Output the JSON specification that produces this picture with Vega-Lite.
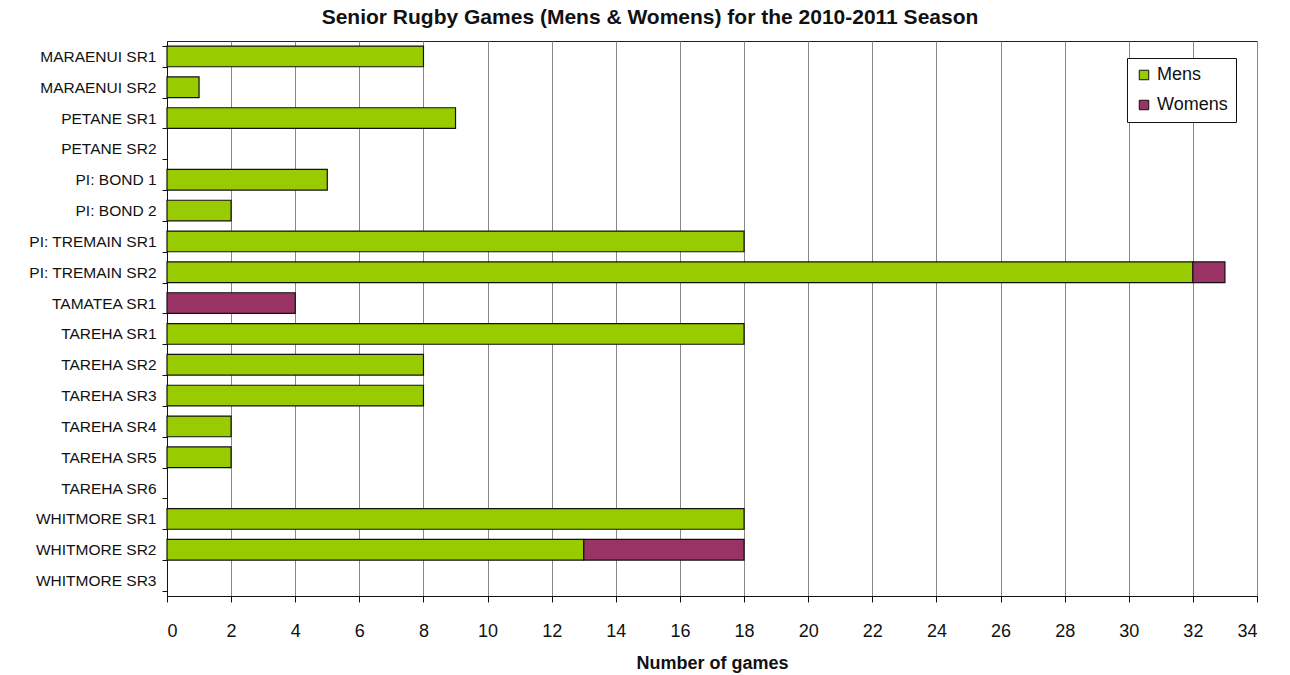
{
  "$schema": "https://vega.github.io/schema/vega-lite/v6.json",
  "width": 1090,
  "height": 555,
  "autosize": {"type": "none"},
  "padding": {"left": 167, "top": 41, "right": 33, "bottom": 79},
  "background": "white",
  "title": {
    "text": "Senior Rugby Games (Mens & Womens) for the 2010-2011 Season",
    "font": "Liberation Sans",
    "fontSize": 21,
    "fontWeight": "bold",
    "color": "#111",
    "anchor": "middle",
    "dx": -62,
    "offset": 6
  },
  "config": {
    "view": {"stroke": "#222", "strokeWidth": 1},
    "font": "Liberation Sans"
  },
  "data": {
    "values": [
      {"team": "MARAENUI SR1", "type": "Mens", "games": 8},
      {"team": "MARAENUI SR2", "type": "Mens", "games": 1},
      {"team": "PETANE SR1", "type": "Mens", "games": 9},
      {"team": "PI: BOND 1", "type": "Mens", "games": 5},
      {"team": "PI: BOND 2", "type": "Mens", "games": 2},
      {"team": "PI: TREMAIN SR1", "type": "Mens", "games": 18},
      {"team": "PI: TREMAIN SR2", "type": "Mens", "games": 32},
      {"team": "PI: TREMAIN SR2", "type": "Womens", "games": 1},
      {"team": "TAMATEA SR1", "type": "Womens", "games": 4},
      {"team": "TAREHA SR1", "type": "Mens", "games": 18},
      {"team": "TAREHA SR2", "type": "Mens", "games": 8},
      {"team": "TAREHA SR3", "type": "Mens", "games": 8},
      {"team": "TAREHA SR4", "type": "Mens", "games": 2},
      {"team": "TAREHA SR5", "type": "Mens", "games": 2},
      {"team": "WHITMORE SR1", "type": "Mens", "games": 18},
      {"team": "WHITMORE SR2", "type": "Mens", "games": 13},
      {"team": "WHITMORE SR2", "type": "Womens", "games": 5}
    ]
  },
  "mark": {"type": "bar", "stroke": "#111", "strokeWidth": 1.2},
  "encoding": {
    "y": {
      "field": "team",
      "type": "nominal",
      "scale": {
        "domain": ["MARAENUI SR1", "MARAENUI SR2", "PETANE SR1", "PETANE SR2", "PI: BOND 1", "PI: BOND 2", "PI: TREMAIN SR1", "PI: TREMAIN SR2", "TAMATEA SR1", "TAREHA SR1", "TAREHA SR2", "TAREHA SR3", "TAREHA SR4", "TAREHA SR5", "TAREHA SR6", "WHITMORE SR1", "WHITMORE SR2", "WHITMORE SR3"],
        "paddingInner": 0.33,
        "paddingOuter": 0.165
      },
      "axis": {
        "title": null,
        "tickBand": "extent",
        "tickSize": 5,
        "tickColor": "#111",
        "domainColor": "#111",
        "labelFont": "Liberation Sans",
        "labelFontSize": 15.5,
        "labelColor": "#111",
        "labelPadding": 6
      }
    },
    "x": {
      "field": "games",
      "type": "quantitative",
      "stack": "zero",
      "scale": {"domain": [0, 34], "nice": false},
      "axis": {
        "title": "Number of games",
        "titleFont": "Liberation Sans",
        "titleFontSize": 18,
        "titleFontWeight": "bold",
        "titleColor": "#111",
        "titlePadding": 14,
        "values": [0, 2, 4, 6, 8, 10, 12, 14, 16, 18, 20, 22, 24, 26, 28, 30, 32, 34],
        "labelFont": "Liberation Sans",
        "labelFontSize": 18,
        "labelColor": "#111",
        "labelPadding": 20,
        "tickSize": 6,
        "tickColor": "#111",
        "domainColor": "#111",
        "grid": true,
        "gridColor": "#888",
        "gridWidth": 1
      }
    },
    "color": {
      "field": "type",
      "type": "nominal",
      "scale": {"domain": ["Mens", "Womens"], "range": ["#99cc00", "#993366"]},
      "legend": {
        "title": null,
        "orient": "none",
        "legendX": 960,
        "legendY": 17,
        "symbolType": "square",
        "symbolSize": 90,
        "symbolStrokeColor": "#111",
        "symbolStrokeWidth": 1,
        "labelFont": "Liberation Sans",
        "labelFontSize": 18,
        "labelColor": "#111",
        "rowPadding": 12,
        "padding": 8,
        "strokeColor": "#111",
        "fillColor": "white"
      }
    },
    "order": {"field": "type", "sort": "ascending"}
  }
}
